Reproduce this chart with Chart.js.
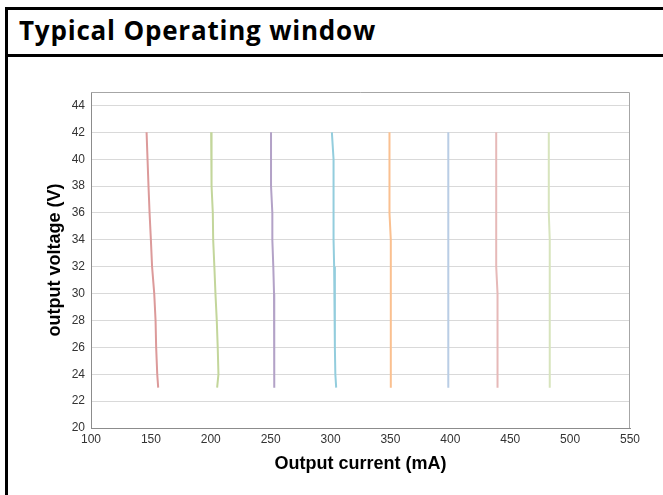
<!DOCTYPE html>
<html>
<head>
<meta charset="utf-8">
<script src="https://cdn.jsdelivr.net/npm/chart.js@4.4.1/dist/chart.umd.min.js"></script>
<style>
html, body { margin: 0; padding: 0; background: #fff; width: 663px; height: 495px; overflow: hidden; }
#frame { position: absolute; left: 5px; top: 7px; width: 700px; height: 500px; border-left: 3px solid #000; border-top: 3px solid #000; }
#sep { position: absolute; left: 5px; top: 54px; width: 700px; height: 3px; background: #000; }
#title { position: absolute; left: 19px; top: 12px; font: 700 26px "Open Sans", sans-serif; letter-spacing: 0.8px; color: #000; white-space: nowrap; }
#wrap { position: absolute; left: 0; top: 0; width: 663px; height: 495px; }
</style>
</head>
<body>
<div id="frame"></div>
<div id="sep"></div>
<div id="title">Typical Operating window</div>
<div id="wrap"><canvas id="myChart"></canvas></div>
<script>
// voltage levels where the curves were read (V)
const voltage = [42, 40, 38, 36, 34, 32, 30, 28, 26, 24, 23];

// output current at each voltage level (mA), one array per curve
const curve150 = [146.4, 147.2, 148.0, 148.9, 150.0, 151.0, 152.8, 153.9, 154.4, 155.3, 156.1];
const curve200 = [200.3, 200.3, 201.0, 201.7, 202.0, 203.0, 203.9, 205.0, 205.8, 206.4, 205.3];
const curve250 = [250.3, 250.3, 250.3, 251.4, 251.4, 252.2, 252.8, 253.0, 253.0, 253.0, 253.0];
const curve300 = [301.1, 302.5, 302.5, 302.5, 302.5, 303.0, 303.6, 303.6, 303.6, 304.0, 304.7];
const curve350 = [349.2, 349.2, 349.2, 349.2, 350.3, 350.3, 350.3, 350.3, 350.3, 350.3, 350.3];
const curve400 = [398.3, 398.3, 398.3, 398.3, 398.3, 398.3, 398.3, 398.3, 398.3, 398.3, 398.3];
const curve440 = [438.3, 438.3, 438.3, 438.3, 438.3, 438.3, 439.4, 439.4, 439.4, 439.4, 439.4];
const curve480 = [482.2, 482.2, 482.2, 482.2, 483.0, 483.0, 483.0, 483.0, 483.0, 483.0, 483.0];

const curves = [curve150, curve200, curve250, curve300, curve350, curve400, curve440, curve480];
const curveColors = ['#dc9a9a', '#c3d69b', '#b3a2c7', '#93cddd', '#fac090', '#b9cde5', '#e6b9b8', '#d7e4bd'];

const xTicks = [100, 150, 200, 250, 300, 350, 400, 450, 500, 550];
const yTicks = [20, 22, 24, 26, 28, 30, 32, 34, 36, 38, 40, 42, 44];

const font = 'Liberation Sans, Arial, sans-serif';

// top/right edges of the plot box
const plotBox = {
    id: 'plotBox',
    beforeDatasetsDraw(chart) {
        const { ctx, chartArea: a } = chart;
        ctx.save();
        ctx.strokeStyle = '#a6a6a6';
        ctx.lineWidth = 1;
        ctx.beginPath();
        ctx.moveTo(a.left, a.top + 0.5);
        ctx.lineTo(a.right - 0.5, a.top + 0.5);
        ctx.lineTo(a.right - 0.5, a.bottom);
        ctx.stroke();
        ctx.restore();
    }
};

const datasets = curves.map((c, i) => ({
    data: c.map((x, j) => ({ x: x, y: voltage[j] })),
    borderColor: curveColors[i],
    borderWidth: 2,
    showLine: true,
    pointRadius: 0,
    tension: 0
}));

new Chart(document.getElementById('myChart'), {
    type: 'scatter',
    data: { datasets: datasets },
    options: {
        responsive: true,
        maintainAspectRatio: false,
        animation: false,
        layout: { padding: { left: 40, right: 33, top: 92, bottom: 16 } },
        plugins: { legend: { display: false }, tooltip: { enabled: false } },
        scales: {
            x: {
                type: 'linear',
                min: 100,
                max: 550,
                afterBuildTicks: axis => { axis.ticks = xTicks.map(v => ({ value: v })); },
                afterFit: scale => { scale.height = 51; },
                grid: { display: false, drawTicks: false },
                border: { display: true, color: '#8c8c8c', width: 1 },
                ticks: { padding: 4, color: '#333', font: { family: font, size: 12 }, maxRotation: 0 },
                title: { display: true, text: 'Output current (mA)', color: '#000', font: { family: font, size: 18, weight: 'bold' } }
            },
            y: {
                type: 'linear',
                min: 20,
                max: 45,
                afterBuildTicks: axis => { axis.ticks = yTicks.map(v => ({ value: v })); },
                afterFit: scale => { scale.width = 51; },
                grid: { color: '#d9d9d9', lineWidth: 1, drawTicks: false },
                border: { display: true, color: '#8c8c8c', width: 1 },
                ticks: { padding: 6, color: '#333', font: { family: font, size: 12 } },
                title: { display: true, text: 'output voltage (V)', color: '#000', font: { family: font, size: 18, weight: 'bold' } }
            }
        }
    },
    plugins: [plotBox]
});
</script>
</body>
</html>
